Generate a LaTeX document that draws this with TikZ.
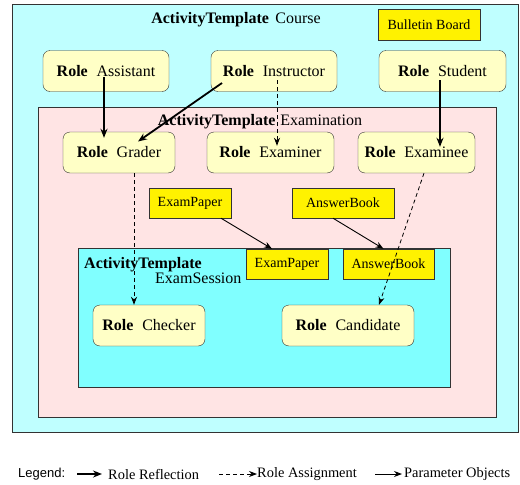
\documentclass[tikz,border=0pt]{standalone}
\usepackage{fontspec}
\setmainfont{Liberation Serif}
\newfontfamily\legendfont{Liberation Sans}
\usepackage{tikz}
\usetikzlibrary{arrows.meta}
\usetikzlibrary{positioning}

\definecolor{coursecyan}{HTML}{BFFFFF}
\definecolor{exampink}{HTML}{FFE4E4}
\definecolor{sessioncyan}{HTML}{80FFFF}
\definecolor{rolefill}{HTML}{FFFFC6}
\definecolor{edgegray}{HTML}{333333}

\newcommand{\rolename}[1]{\textbf{Role}\hspace{0.55em}#1}

\begin{document}
\begin{tikzpicture}[x=1pt,y=-1pt,
    every node/.style={font=\fontsize{16}{18}\selectfont},
    area/.style={draw=edgegray,anchor=north west,inner sep=0pt},
    role/.style={draw=edgegray,fill=rolefill,rounded corners=7pt,minimum height=41pt,inner sep=0pt},
    obj/.style={draw=edgegray,fill=yellow,minimum height=30pt,inner sep=0pt,font=\fontsize{14}{16}\selectfont},
    legendtext/.style={inner sep=0pt,font=\fontsize{14.4}{16}\selectfont},
    reflect/.style={-{Stealth[length=9pt,width=7pt]},line width=1.8pt},
    assign/.style={-{Stealth[length=8pt,width=6pt]},dash pattern=on 4pt off 3pt,line width=0.8pt},
    param/.style={-{Stealth[length=8pt,width=6pt]},line width=0.9pt}]
  \useasboundingbox (0,0) rectangle (520,485);

  % activity templates
  \node[area,fill=coursecyan,minimum width=506pt,minimum height=428pt] (course) at (12,4) {};
  \node[area,fill=exampink,minimum width=458pt,minimum height=310pt] (exam) at (38,107) {};
  \node[area,fill=sessioncyan,minimum width=372pt,minimum height=139pt] (session) at (78,248) {};

  \node (coursetitle) at (236,20) {\textbf{ActivityTemplate}\hspace{0.4em}Course};
  \node (examtitle) at (260,122) {\textbf{ActivityTemplate}\hspace{0.3em}Examination};
  \node[anchor=north west,align=left,inner sep=0pt,font=\fontsize{16}{15}\selectfont] (sessiontitle) at (84,257)
    {\textbf{ActivityTemplate}\\\hspace*{71pt}ExamSession};

  % roles
  \node[role,minimum width=126pt] (assistant) at (106,71) {\rolename{Assistant}};
  \node[role,minimum width=126pt] (instructor) at (274,71) {\rolename{Instructor}};
  \node[role,minimum width=127pt] (student) at (442.5,71) {\rolename{Student}};
  \node[role,minimum width=112pt] (grader) at (119,152.5) {\rolename{Grader}};
  \node[role,minimum width=127pt] (examiner) at (270.5,152.5) {\rolename{Examiner}};
  \node[role,minimum width=117pt] (examinee) at (416.5,152.5) {\rolename{Examinee}};
  \node[role,minimum width=112pt] (checker) at (149,325.5) {\rolename{Checker}};
  \node[role,minimum width=132pt] (candidate) at (348,325.5) {\rolename{Candidate}};

  % objects
  \node[obj,minimum width=102pt,minimum height=31pt] (bulletin) at (429,24.5) {Bulletin Board};
  \node[obj,minimum width=82pt] (paper) at (190,203) {ExamPaper};
  \node[obj,minimum width=102pt] (book) at (343,203) {AnswerBook};
  \node[obj,minimum width=82pt] (paperin) at (287,264) {ExamPaper};
  \node[obj,minimum width=91pt] (bookin) at (388.5,264) {AnswerBook};

  % role reflection
  \draw[reflect] ([xshift=-2pt,yshift=-6pt]assistant.center) -- ([xshift=-2pt,yshift=-6pt]assistant.center |- grader.north);
  \draw[reflect] ([xshift=-52pt,yshift=-12pt]instructor.center) -- ([xshift=19pt,yshift=11pt]grader.center);
  \draw[reflect,shorten >=-6pt] ([xshift=-2.5pt,yshift=-9pt]student.center) -- ([xshift=-2.5pt,yshift=-9pt]student.center |- examinee.north);

  % role assignment
  \draw[assign,shorten >=-5pt] ([xshift=3pt,yshift=-9pt]instructor.center) -- ([xshift=3pt,yshift=-9pt]instructor.center |- examiner.north);
  \draw[assign] ([xshift=15pt]grader.south) -- ([xshift=15pt]grader.south |- checker.north);
  \draw[assign] ([xshift=7.5pt]examinee.south) -- ([xshift=31pt]candidate.north);

  % parameter objects
  \draw[param] ([xshift=31pt]paper.south) -- ([xshift=-15pt]paperin.north);
  \draw[param] ([xshift=-10pt]book.south) -- ([xshift=-5pt]bookin.north);

  % legend
  \node[anchor=west,inner sep=0pt,font=\legendfont\fontsize{13}{15}\selectfont] (legend) at (18,474) {Legend:};
  \coordinate (reflectstart) at (77,474);
  \node[legendtext,anchor=west] (reflectlabel) at (108,474) {Role Reflection};
  \coordinate (assignstart) at (219,474);
  \node[legendtext,anchor=west] (assignlabel) at (257,474) {Role Assignment};
  \coordinate (paramstart) at (375,474);
  \node[legendtext,anchor=west] (paramlabel) at (404,474) {Parameter Objects};
  \draw[reflect,shorten >=6pt] (reflectstart) -- (reflectlabel.west);
  \draw[assign] (assignstart) -- (assignlabel.west);
  \draw[param,shorten >=2pt] (paramstart) -- (paramlabel.west);
\end{tikzpicture}
\end{document}
